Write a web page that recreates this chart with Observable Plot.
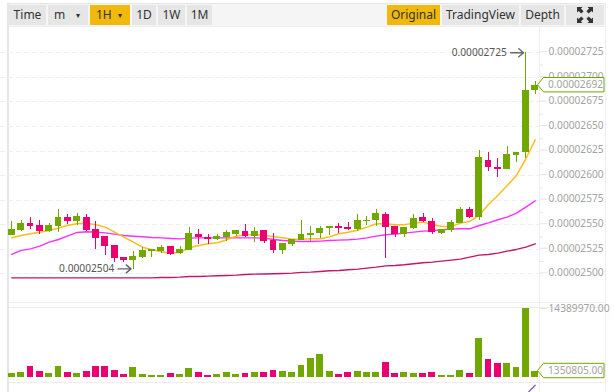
<!DOCTYPE html>
<html><head><meta charset="utf-8">
<script src="https://cdn.jsdelivr.net/npm/d3@7"></script>
<script src="https://cdn.jsdelivr.net/npm/@observablehq/plot@0.6"></script>
<style>
html,body{margin:0;padding:0;background:#fff;width:614px;height:392px;overflow:hidden;font-family:"Noto Sans",sans-serif}
#wrap{position:relative;width:614px;height:392px;overflow:hidden}
#bar{position:absolute;left:9px;top:4px;width:596px;height:22px;background:#f5f5f5}
.btn{position:absolute;top:5px;height:20px;line-height:20px;background:#e6e6e6;color:#333;font-size:12px;text-align:center;box-sizing:border-box}
.on{background:#f0b90b}
.caret{position:absolute;top:0;font-size:8px;color:#333}
.ln{position:absolute;background:#eee}
#price,#vol{position:absolute;left:0}
#price{top:26px}#vol{top:303px}
svg{display:block}
</style></head><body>
<div id="wrap">
<div id="bar"></div>
<div class="ln" style="left:7px;top:3px;width:598px;height:1px;background:#e6e6e6"></div>
<div class="ln" style="left:7px;top:26px;width:598px;height:1px"></div>
<div class="ln" style="left:7px;top:3px;width:2px;height:389px;background:#e6e6e6"></div>
<div class="ln" style="left:605px;top:3px;width:1px;height:389px"></div>
<div class="ln" style="left:9px;top:302px;width:596px;height:1px"></div>
<div class="ln" style="left:9px;top:307px;width:596px;height:1px"></div>
<div class="ln" style="left:9px;top:382px;width:596px;height:1px"></div>
<div class="ln" style="left:539px;top:26px;width:1px;height:366px"></div>
<div id="price"></div><div id="vol"></div>
<div style="position:absolute;left:527px;top:388px;width:10px;height:1px;background:#5b2bb5;transform:rotate(-45deg)"></div>
<div id="btns"></div>
<svg style="position:absolute;left:577px;top:7px" width="16" height="16" viewBox="0 0 16 16" fill="#333">
<path d="M0 0h5.5L3.9 1.6 6.6 4.3 4.3 6.6 1.6 3.9 0 5.5zM16 0v5.5L14.4 3.9 11.7 6.6 9.4 4.3 12.1 1.6 10.5 0zM0 16v-5.5l1.6 1.6 2.7-2.7 2.3 2.3-2.7 2.7L5.5 16zM16 16h-5.5l1.6-1.6-2.7-2.7 2.3-2.3 2.7 2.7 1.6-1.6z"/></svg>
</div>
<script>
const opens=[2539,2544,2551,2549,2543,2548,2557,2553,2557,2545,2538,2529,2517,2514,2517,2523,2523,2528,2521,2524,2540,2537,2535,2537,2540,2543,2538,2544,2534,2524,2530,2534,2539,2541,2546,2548,2547,2545,2553,2554,2560,2548,2540,2546,2557,2553,2541,2544,2551,2565,2557,2615,2608,2606,2620,2623,2687];
const closes=[2545,2551,2548,2543,2549,2557,2553,2558,2544,2536,2528,2516,2514,2518,2524,2525,2527,2520,2525,2541,2537,2535,2538,2542,2544,2538,2543,2533,2524,2531,2535,2540,2541,2546,2548,2546,2545,2554,2554,2561,2547,2540,2547,2556,2553,2542,2545,2552,2565,2557,2618,2608,2606,2621,2624,2687,2692];
const highs=[2553,2554,2557,2554,2551,2565,2560,2561,2560,2553,2538,2529,2517,2523,2527,2525,2529,2528,2528,2547,2545,2540,2540,2544,2544,2550,2547,2544,2541,2531,2535,2554,2548,2548,2548,2551,2552,2560,2558,2565,2562,2548,2547,2560,2561,2556,2545,2554,2567,2567,2626,2624,2617,2630,2624,2725,2696];
const lows=[2539,2543,2545,2540,2542,2542,2550,2549,2543,2525,2519,2511,2511,2504,2516,2517,2521,2519,2520,2524,2530,2530,2534,2533,2538,2537,2532,2531,2521,2520,2528,2534,2533,2536,2539,2541,2544,2543,2549,2548,2516,2537,2537,2545,2552,2540,2540,2542,2551,2556,2554,2604,2598,2606,2613,2617,2683];
const ma7=[2536.6,2539,2540.7,2542.4,2544.1,2546.5,2549.5,2550.9,2551.6,2549.9,2547.5,2542.4,2537.3,2532.2,2527.1,2524.4,2522.4,2521,2522,2526.5,2528.8,2530.5,2531.6,2534.6,2538.3,2539.7,2539.7,2539,2538,2536.6,2535.3,2535.3,2535.6,2535.6,2537.7,2540.7,2542.4,2544.4,2547.5,2550.9,2550.9,2549.9,2549.9,2551.6,2552.6,2550.2,2548.2,2548.2,2551.6,2553.3,2559.4,2570.6,2579.7,2589.9,2600.1,2617.1,2636.4];
const ma25=[2519.7,2523.8,2525.4,2528.2,2532.2,2534.9,2538.7,2542.1,2542.8,2542.4,2541.7,2540.4,2539,2538.3,2537.7,2537,2536.6,2536,2535.6,2536.3,2536.6,2536.6,2536.6,2536.6,2536.6,2536.6,2536.6,2536.3,2534.9,2533.9,2533.3,2532.9,2532.9,2533.3,2533.9,2534.3,2534.6,2535.3,2536.6,2538.3,2539.7,2540.4,2541.4,2542.4,2543.4,2543.8,2544.8,2545.5,2545.8,2545.8,2549.2,2551.9,2555,2557.7,2561.8,2567.9,2574.3];
const ma99=[2495.9,2495.9,2495.9,2495.9,2495.9,2495.9,2495.9,2495.9,2495.9,2495.9,2495.9,2495.9,2495.9,2495.9,2495.9,2495.9,2496.3,2496.3,2496.6,2497.3,2497.3,2497.6,2498,2498.3,2498.6,2499.3,2499.7,2499.8,2500,2500.3,2500.7,2501.4,2501.7,2502.4,2503.1,2503.4,2504.1,2504.8,2505.8,2506.8,2508.1,2508.5,2509.2,2510.2,2511.2,2511.9,2512.9,2513.9,2514.9,2517,2519,2519.7,2521,2523.1,2524.8,2527.1,2530.5];
const volumes=[834000,1043000,2294000,1251000,834000,2294000,1043000,834000,1251000,2294000,2294000,1460000,626000,2086000,626000,417000,417000,834000,626000,1877000,1043000,417000,626000,1043000,626000,834000,1043000,1043000,1460000,1251000,1043000,2503000,3962000,4797000,1251000,626000,1043000,1251000,1043000,1043000,3128000,834000,1043000,834000,834000,1043000,417000,417000,1460000,834000,8133000,3754000,2920000,2920000,2086000,14389970,1350805];
const priceTicks=[2500,2525,2550,2575,2600,2625,2650,2675,2700,2725];
const minorTicks=[2512.5,2537.5,2562.5,2587.5,2612.5,2637.5,2662.5,2687.5,2712.5];
const buttons=[["Time",9,46,0],["m",48,88,0],["1H",90,130,1],["1D",132,156,0],["1W",158,185,0],["1M",187,212,0],["Original",387,440,1],["TradingView",442,519,0],["Depth",521,564,0],["",566,604,0]];
const GREEN="#70a800",PINK="#ea0070",YELLOW="#fcbc1c",MAGENTA="#ff2eff",MAROON="#c4146c";
const TICKTEXT="#a3a3a3";
const highAnn=[{i:55,v:2725,t:"0.00002725"}],lowAnn=[{i:13,v:2504,t:"0.00002504"}];

const btns=document.getElementById("btns");
for(const [t,a,b,on] of buttons){
  const d=document.createElement("div");d.className="btn"+(on?" on":"");
  d.style.left=a+"px";d.style.width=(b-a)+"px";
  if(t==="m"||t==="1H"){d.style.textAlign="left";d.style.paddingLeft="6px";d.textContent=t;
    const c=document.createElement("span");c.className="caret";c.textContent="▾";c.style.left=(b-a-12)+"px";d.appendChild(c);}
  else d.textContent=t;
  btns.appendChild(d);
}

const rows=opens.map((o,i)=>({i,o,c:closes[i],h:highs[i],l:lows[i],v:volumes[i],up:closes[i]>o}));
const xScale={type:"linear",domain:[0,56],range:[11.3,534.7],axis:null};
const font={fontFamily:"'Noto Sans',sans-serif",fontSize:"10.2px",background:"transparent",color:TICKTEXT,overflow:"visible"};
const crisp={shapeRendering:"crispEdges"};
const arrowStyle={stroke:"#666",strokeWidth:1.4,headLength:7,headAngle:80,insetStart:3.4,insetEnd:2.3};

function callout(value,label){
  return (index,scales)=>{
    const y=scales.y(value),h=7.2;
    const g=d3.create("svg:g");
    g.append("path").attr("d",`M537.5,${y}L543.5,${y-h}H604V${y+h}H543.5Z`)
      .attr("fill","#fff").attr("stroke",GREEN).attr("stroke-width",1);
    g.append("text").attr("x",548).attr("y",y).attr("dy","0.35em").attr("text-anchor","start").attr("fill",TICKTEXT).text(label);
    return g.node();
  };
}
const candles=(pick,col)=>[
  Plot.ruleX(rows.filter(pick),{x:"i",y1:"l",y2:"h",stroke:col,strokeWidth:1,...crisp}),
  Plot.rect(rows.filter(pick),{x1:d=>d.i-0.37,x2:d=>d.i+0.37,y1:"o",y2:"c",fill:col,...crisp})
];

const price=Plot.plot({
  width:614,height:277,marginLeft:0,marginRight:75,marginTop:0,marginBottom:0,style:font,
  x:xScale,
  y:{type:"linear",domain:[2500,2725],range:[247.3,26.3],axis:null},
  marks:[
    Plot.ruleY(priceTicks,{stroke:"#efefef",strokeWidth:1,strokeDasharray:"5,3",...crisp}),
    Plot.axisY({anchor:"right",ticks:minorTicks,tickSize:3,tickFormat:()=>"",stroke:"#e4e4e4"}),
    Plot.axisY({anchor:"right",ticks:priceTicks,tickSize:7,tickPadding:2,tickFormat:d=>"0.0000"+d,stroke:"#e4e4e4",fill:TICKTEXT,dy:-1,label:null}),
    Plot.line(ma99,{x:(d,i)=>i,y:d=>d,stroke:MAROON,strokeWidth:1.4}),
    Plot.line(ma25,{x:(d,i)=>i,y:d=>d,stroke:MAGENTA,strokeWidth:1.4}),
    Plot.line(ma7,{x:(d,i)=>i,y:d=>d,stroke:YELLOW,strokeWidth:1.5}),
    ...candles(d=>d.up,GREEN),
    ...candles(d=>!d.up,PINK),
    Plot.arrow(highAnn,{x1:d=>d.i-2,x2:"i",y1:"v",y2:"v",...arrowStyle}),
    Plot.arrow(lowAnn,{x1:d=>d.i-2,x2:"i",y1:d=>d.v+1,y2:d=>d.v+1,...arrowStyle}),
    Plot.text(highAnn,{x:"i",y:"v",text:"t",textAnchor:"end",dx:-19,fill:"#555"}),
    Plot.text(lowAnn,{x:"i",y:d=>d.v+1,text:"t",textAnchor:"end",dx:-19,fill:"#555"}),
    callout(2692,"0.00002692")
  ]
});
document.getElementById("price").appendChild(price);

const vol=Plot.plot({
  width:614,height:79,marginLeft:0,marginRight:75,marginTop:0,marginBottom:0,style:font,
  x:xScale,
  y:{type:"linear",domain:[0,14389970],range:[74,5],axis:null},
  marks:[
    Plot.axisY({anchor:"right",ticks:[14389970],tickSize:7,tickPadding:2,tickFormat:d=>d+".00",stroke:"#e4e4e4",fill:TICKTEXT,label:null}),
    Plot.rect(rows.filter(d=>d.up),{x1:d=>d.i-0.37,x2:d=>d.i+0.37,y1:0,y2:"v",fill:GREEN,...crisp}),
    Plot.rect(rows.filter(d=>!d.up),{x1:d=>d.i-0.37,x2:d=>d.i+0.37,y1:0,y2:"v",fill:PINK,...crisp}),
    callout(1350805,"1350805.00")
  ]
});
document.getElementById("vol").appendChild(vol);
</script>
</body></html>
